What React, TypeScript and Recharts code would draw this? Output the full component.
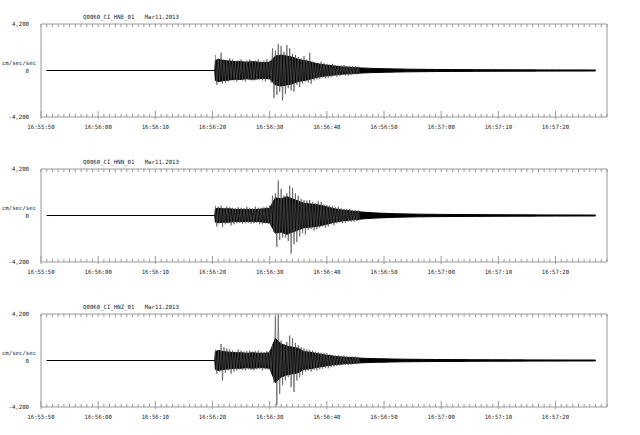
import { ComposedChart, Area, Line, XAxis, YAxis } from 'recharts'

const tickLabels = [
  '16:55:50', '16:56:00', '16:56:10', '16:56:20', '16:56:30',
  '16:56:40', '16:56:50', '16:57:00', '16:57:10', '16:57:20',
]
const majorTicks = [0, 10, 20, 30, 40, 50, 60, 70, 80, 90]
const yTicks = [-4200, 0, 4200]
const channels = ['Q0060_CI_HNE_01', 'Q0060_CI_HNN_01', 'Q0060_CI_HNZ_01']
const recordDate = 'Mar11.2013'
const unitLabel = 'cm/sec/sec'

// seconds after 16:55:50
const bandTimes = [1, 30.4, 30.5, ...Array.from({ length: 67 }, (_, i) => 31 + i)]
const spikeTimes = Array.from({ length: 102 }, (_, i) => 30.5 + i * 0.25)

// half width of the dense part of the trace
const hneBand = [
  0, 0, 900,
  1000, 900, 850, 800, 800, 750, 800, 750, 700, 750,
  1300, 1400, 1300, 1200,
  1000, 900, 800, 650, 550,
  480, 420, 360, 320, 290,
  260, 230, 210, 190, 175,
  160, 150, 140, 130, 120,
  115, 110, 105, 100, 95,
  90, 90, 85, 85, 80,
  80, 75, 75, 70, 70,
  70, 65, 65, 65, 60,
  60, 60, 55, 55, 55,
  55, 50, 50, 50, 50,
  50, 45, 45,
]
const hnnBand = [
  0, 0, 600,
  650, 600, 600, 550, 550, 550, 550, 550, 600, 650,
  1600, 1500, 1700, 1500,
  1300, 1100, 1050, 1000, 900,
  780, 640, 540, 470, 420,
  370, 320, 280, 250, 220,
  200, 180, 165, 150, 140,
  130, 120, 115, 110, 105,
  100, 95, 90, 90, 85,
  85, 80, 80, 75, 75,
  70, 70, 65, 65, 60,
  60, 60, 55, 55, 55,
  50, 50, 50, 50, 45,
  45, 45, 45,
]
const hnzBand = [
  0, 0, 800,
  900, 800, 750, 700, 700, 650, 700, 650, 650, 700,
  2000, 1500, 1300, 1200,
  1100, 800, 750, 650, 560,
  470, 400, 340, 300, 270,
  240, 210, 190, 170, 160,
  150, 140, 130, 120, 115,
  110, 105, 100, 95, 90,
  90, 85, 85, 80, 80,
  75, 75, 70, 70, 65,
  65, 65, 60, 60, 60,
  55, 55, 55, 50, 50,
  50, 50, 45, 45, 45,
  45, 45, 40,
]

// peak excursions, four per second from 16:56:20.5
const hneSpikes = [
  1400, -1300, 1100, -900, 1600, -1200, 1000, -1100,
  900, -1000, 1100, -800, 1000, -900, 800, -1000,
  900, -800, 1000, -900, 800, -1000, 900, -800,
  1000, -900, 800, -900, 900, -800, 1000, -800,
  800, -900, 900, -1000, 1000, -800, 900, -1100,
  2000, -2500, 1800, -2200, 2400, -1900, 2200, -2700,
  1700, -2100, 2300, -1600, 2000, -1800, 1500, -1900,
  1400, -1300, 1200, -1500, 1100, -1200, 1300, -1000,
  1000, -1100, 1600, -1200, 800, -900, 700, -800,
  700, -750, 800, -650, 650, -700, 600, -650,
  550, -600, 600, -500, 500, -550, 450, -500,
  450, -400, 500, -450, 400, -450, 380, -400,
  380, -350, 400, -350, 350, -330,
]
const hnnSpikes = [
  900, -1000, 800, -700, 900, -1050, 700, -800,
  800, -700, 750, -900, 700, -800, 650, -700,
  750, -650, 700, -750, 650, -700, 800, -650,
  700, -750, 650, -700, 800, -650, 700, -800,
  700, -800, 750, -700, 800, -750, 900, -900,
  1800, -1500, 2000, -2850, 3150, -2200, 2400, -2000,
  1800, -2000, 2000, -2300, 2700, -3450, 2500, -2600,
  2000, -2400, 1800, -1900, 1500, -1600, 1400, -1700,
  1350, -1300, 1400, -1200, 1200, -1350, 1100, -1250,
  1300, -1100, 1200, -1000, 1000, -1100, 950, -1000,
  900, -800, 850, -900, 750, -700, 800, -650,
  650, -700, 600, -650, 600, -550, 600, -550,
  500, -550, 480, -500, 450, -430,
]
const hnzSpikes = [
  1000, -1200, 900, -1000, 1500, -1800, 1200, -1100,
  1100, -900, 1000, -1200, 900, -1000, 800, -900,
  1000, -800, 900, -850, 800, -900, 850, -800,
  900, -850, 800, -900, 850, -800, 900, -750,
  800, -900, 750, -800, 850, -800, 900, -1000,
  1500, -2000, 4000, -4050, 4200, -3000, 1800, -2200,
  1500, -1800, 1700, -1500, 2250, -2400, 2000, -2850,
  1600, -1800, 1400, -1500, 1200, -1300, 1100, -1000,
  1000, -900, 950, -1000, 900, -850, 800, -900,
  750, -800, 700, -750, 700, -650, 650, -700,
  550, -600, 500, -550, 450, -500, 480, -450,
  420, -400, 450, -380, 380, -400, 350, -380,
  350, -330, 360, -320, 320, -300,
]

const FONT = 'DejaVu Sans Mono'
const AXIS = '#9a9a9a'
const TEXT = '#222'
const allSeconds = Array.from({ length: 100 }, (_, i) => i)

const PANEL_H = 145
// axes take 1px each, margins make the plot box 41..607 x 24..117
const M = { top: 23, right: 32, bottom: 27, left: 40 }

function buildRows(band: number[], spikes: number[]) {
  const rows = new Map<number, any>()
  bandTimes.forEach((t, i) => {
    rows.set(t, { t, band: [-band[i], band[i]] })
  })
  spikeTimes.forEach((t, i) => {
    const r = rows.get(t) || { t }
    r.spike = spikes[i]
    rows.set(t, r)
  })
  return [...rows.values()].sort((a, b) => a.t - b.t)
}

function BottomTick(props: any) {
  const { x, y, payload } = props
  const major = majorTicks.indexOf(payload.value)
  if (major < 0) {
    return <line x1={x} x2={x} y1={y - 3} y2={y} stroke={AXIS} />
  }
  return (
    <g>
      <line x1={x} x2={x} y1={y - 6} y2={y + 2} stroke={AXIS} />
      <text x={x} y={y + 12} textAnchor="middle" fontSize={5.7} fontFamily={FONT} fill={TEXT}>
        {tickLabels[major]}
      </text>
    </g>
  )
}

function TopTick(props: any) {
  const { x, y } = props
  return <line x1={x} x2={x} y1={y} y2={y + 3} stroke={AXIS} />
}

function Panel({ index, band, spikes }: { index: number; band: number[]; spikes: number[] }) {
  const rows = buildRows(band, spikes)
  const zeroY = 24 + 93 / 2

  return (
    <div style={{ position: 'relative', width: 640, height: PANEL_H }}>
      <ComposedChart width={640} height={PANEL_H} data={rows} margin={M}>
        <XAxis
          dataKey="t"
          type="number"
          domain={[0, 99]}
          ticks={allSeconds}
          interval={0}
          height={1}
          tickSize={0}
          tickMargin={0}
          tickLine={false}
          axisLine={{ stroke: AXIS }}
          tick={(p: any) => <BottomTick {...p} />}
        />
        <XAxis
          xAxisId="top"
          orientation="top"
          dataKey="t"
          type="number"
          domain={[0, 99]}
          ticks={allSeconds}
          interval={0}
          height={1}
          tickSize={0}
          tickMargin={0}
          tickLine={false}
          axisLine={{ stroke: AXIS }}
          tick={(p: any) => <TopTick {...p} />}
        />
        <YAxis
          type="number"
          domain={[-4200, 4200]}
          ticks={yTicks}
          allowDataOverflow
          width={1}
          tickSize={0}
          tickMargin={12}
          tickLine={false}
          axisLine={{ stroke: AXIS }}
          tickFormatter={(v: number) => v.toLocaleString('en-US')}
          tick={{ fontSize: 5.7, fontFamily: FONT, fill: TEXT }}
        />
        <YAxis
          yAxisId="right"
          orientation="right"
          type="number"
          domain={[-4200, 4200]}
          width={1}
          tick={false}
          tickLine={false}
          axisLine={{ stroke: AXIS }}
        />
        <Line
          dataKey="spike"
          type="linear"
          stroke="#555"
          strokeWidth={0.7}
          dot={false}
          activeDot={false}
          connectNulls
          isAnimationActive={false}
        />
        <Area
          dataKey="band"
          type="linear"
          stroke="#000"
          strokeWidth={1}
          fill="#000"
          fillOpacity={1}
          dot={false}
          activeDot={false}
          connectNulls
          isAnimationActive={false}
        />
      </ComposedChart>
      <svg
        width={640}
        height={PANEL_H}
        style={{ position: 'absolute', left: 0, top: 0, pointerEvents: 'none' }}
      >
        <text x={131} y={19} textAnchor="middle" fontSize={5.7} fontFamily={FONT} fill={TEXT} xmlSpace="preserve">
          {`${channels[index]}   ${recordDate}`}
        </text>
        <text x={19} y={zeroY - 6} textAnchor="middle" fontSize={5.7} fontFamily={FONT} fill={TEXT}>
          {unitLabel}
        </text>
      </svg>
    </div>
  )
}

export default function App() {
  return (
    <div style={{ position: 'absolute', left: 0, top: 0, width: 640, height: 435, background: '#fff' }}>
      <Panel index={0} band={hneBand} spikes={hneSpikes} />
      <Panel index={1} band={hnnBand} spikes={hnnSpikes} />
      <Panel index={2} band={hnzBand} spikes={hnzSpikes} />
    </div>
  )
}
